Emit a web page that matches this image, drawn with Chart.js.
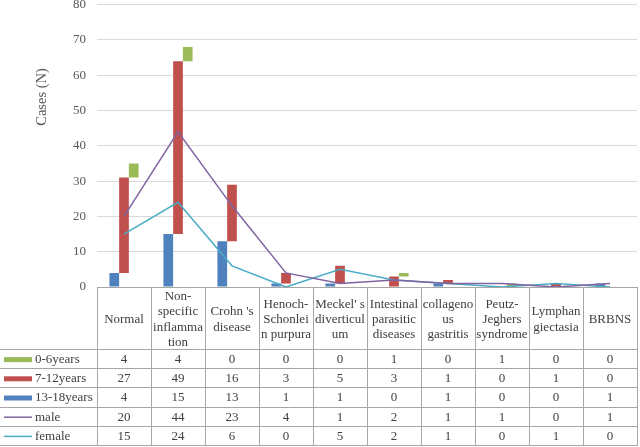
<!DOCTYPE html>
<html>
<head>
<meta charset="utf-8">
<script src="https://cdn.jsdelivr.net/npm/chart.js@4/dist/chart.umd.min.js"></script>
<style>
html,body{margin:0;padding:0;background:#fff;}
#wrap{width:640px;height:447px;position:relative;}
</style>
</head>
<body>
<div id="wrap"><canvas id="c" width="640" height="447"></canvas></div>
<script>
const categories = [
  ["Normal"],
  ["Non-","specific","inflamma","tion"],
  ["Crohn 's","disease"],
  ["Henoch-","Schonlei","n purpura"],
  ["Meckel' s","diverticul","um"],
  ["Intestinal","parasitic","diseases"],
  ["collageno","us","gastritis"],
  ["Peutz-","Jeghers","syndrome"],
  ["Lymphan","giectasia"],
  ["BRBNS"]
];
const age0_6   = [4, 4, 0, 0, 0, 1, 0, 1, 0, 0];
const age7_12  = [27, 49, 16, 3, 5, 3, 1, 0, 1, 0];
const age13_18 = [4, 15, 13, 1, 1, 0, 1, 0, 0, 1];
const male     = [20, 44, 23, 4, 1, 2, 1, 1, 0, 1];
const female   = [15, 24, 6, 0, 5, 2, 1, 0, 1, 0];
const yTicks   = [0, 10, 20, 30, 40, 50, 60, 70, 80];
const yTitle   = 'Cases (N)';

const C_GREEN = '#9BBB59', C_RED = '#C0504D', C_BLUE = '#4F81BD', C_PURPLE = '#8064A2', C_CYAN = '#4BACC6';
const FONT = '"Liberation Serif", "Times New Roman", serif';

// floating stacked segments built from the series
const blueBars  = age13_18.map(v => [0, v]);
const redBars   = age7_12.map((v, i) => [age13_18[i], age13_18[i] + v]);
const greenBars = age0_6.map((v, i) => [age13_18[i] + age7_12[i], age13_18[i] + age7_12[i] + v]);

const tableRows = [
  {label: '0-6years', data: age0_6, color: C_GREEN, type: 'bar'},
  {label: '7-12years', data: age7_12, color: C_RED, type: 'bar'},
  {label: '13-18years', data: age13_18, color: C_BLUE, type: 'bar'},
  {label: 'male', data: male, color: C_PURPLE, type: 'line'},
  {label: 'female', data: female, color: C_CYAN, type: 'line'}
];

const tablePlugin = {
  id: 'dataTable',
  afterDraw(chart) {
    const ctx = chart.ctx;
    const x = chart.scales.x;
    const area = chart.chartArea;
    const n = categories.length;
    const cw = (area.right - area.left) / n;
    const top = Math.round(area.bottom);
    const headerBottom = 350;
    const bottom = 446;
    const rowH = (bottom - headerBottom) / tableRows.length;
    ctx.save();
    // y axis title
    ctx.save();
    ctx.translate(42, 97);
    ctx.rotate(-Math.PI / 2);
    ctx.fillStyle = '#595959';
    ctx.font = '14.5px ' + FONT;
    ctx.textAlign = 'center';
    ctx.textBaseline = 'middle';
    ctx.fillText(yTitle, 0, 0);
    ctx.restore();

    ctx.strokeStyle = '#A6A6A6';
    ctx.lineWidth = 1;
    ctx.beginPath();
    ctx.moveTo(area.left, top + 0.5); ctx.lineTo(area.right, top + 0.5);
    for (let i = 0; i <= n; i++) {
      const xx = Math.round(area.left + i * cw) + 0.5;
      ctx.moveTo(xx, top); ctx.lineTo(xx, bottom);
    }
    for (let r = 0; r <= tableRows.length; r++) {
      const yy = Math.round(headerBottom + r * rowH) - 0.5;
      ctx.moveTo(0, yy); ctx.lineTo(area.right, yy);
    }
    ctx.stroke();

    ctx.fillStyle = '#404040';
    ctx.font = '13px ' + FONT;
    ctx.textAlign = 'center';
    ctx.textBaseline = 'middle';
    const lh = 15.3;
    categories.forEach((lines, i) => {
      const cx = x.getPixelForValue(i);
      const cy = (top + headerBottom) / 2;
      const y0 = cy - (lines.length - 1) * lh / 2;
      lines.forEach((t, k) => ctx.fillText(t, cx, y0 + k * lh + 1));
    });
    tableRows.forEach((row, r) => {
      const cy = headerBottom + r * rowH + rowH / 2;
      row.data.forEach((v, i) => {
        ctx.fillText(String(v), x.getPixelForValue(i), cy);
      });
      if (row.type === 'bar') {
        ctx.fillStyle = row.color;
        ctx.fillRect(4, cy - 2.5, 28, 5);
      } else {
        ctx.strokeStyle = row.color;
        ctx.lineWidth = 1.5;
        ctx.beginPath();
        ctx.moveTo(4, cy); ctx.lineTo(32, cy);
        ctx.stroke();
      }
      ctx.fillStyle = '#404040';
      ctx.textAlign = 'left';
      ctx.fillText(row.label, 35, cy);
      ctx.textAlign = 'center';
    });
    ctx.restore();
  }
};

new Chart(document.getElementById('c'), {
  type: 'bar',
  data: {
    labels: categories,
    datasets: [
      {type: 'line', label: 'male', data: male, borderColor: C_PURPLE, backgroundColor: C_PURPLE, borderWidth: 1.5, pointRadius: 0, tension: 0, fill: false},
      {type: 'line', label: 'female', data: female, borderColor: C_CYAN, backgroundColor: C_CYAN, borderWidth: 1.5, pointRadius: 0, tension: 0, fill: false},
      {label: '13-18years', data: blueBars, backgroundColor: C_BLUE, borderWidth: 0},
      {label: '7-12years', data: redBars, backgroundColor: C_RED, borderWidth: 0},
      {label: '0-6years', data: greenBars, backgroundColor: C_GREEN, borderWidth: 0}
    ]
  },
  options: {
    responsive: false,
    animation: false,
    events: [],
    layout: {padding: {top: 4.7, right: 3, bottom: 160, left: 0}},
    datasets: {bar: {categoryPercentage: 0.54, barPercentage: 1.0}},
    plugins: {legend: {display: false}, tooltip: {enabled: false}},
    scales: {
      x: {
        display: false,
        offset: true,
        grid: {display: false}
      },
      y: {
        min: 0, max: 80,
        afterFit: s => { s.width = 97; },
        afterBuildTicks: s => { s.ticks = yTicks.map(v => ({value: v})); },
        border: {display: false},
        grid: {color: '#D9D9D9', lineWidth: 1, drawTicks: true, tickLength: 11, tickColor: 'rgba(0,0,0,0)'},
        ticks: {stepSize: 10, padding: 0, color: '#595959', font: {family: FONT, size: 13, lineHeight: 0.7}},
        title: {display: false}
      }
    }
  },
  plugins: [tablePlugin]
});
</script>
</body>
</html>
